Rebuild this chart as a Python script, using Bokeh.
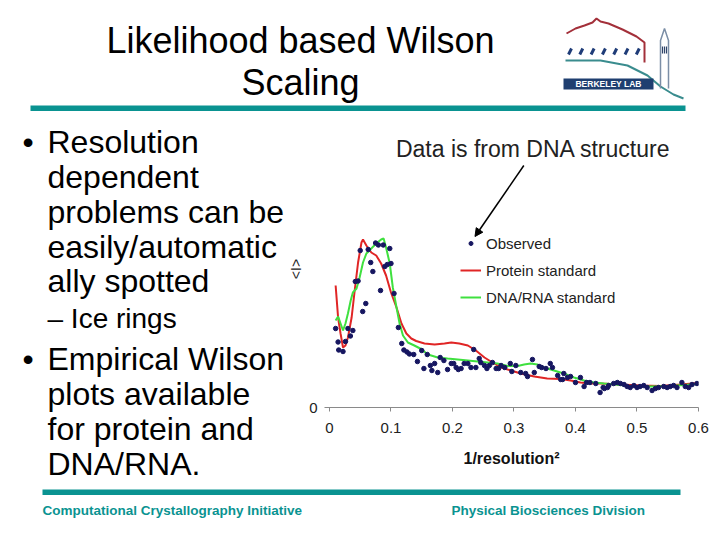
from bokeh.plotting import figure
from bokeh.layouts import column, row
from bokeh.models import (Range1d, Label, LinearAxis, FixedTicker, Legend,
                          LegendItem, Arrow, NormalHead)
from bokeh.embed import file_html
from bokeh.resources import INLINE

FONT = "Liberation Sans"
TEAL = "#0a9391"
NAVY = "#161660"
RED = "#e02525"
GREEN = "#3fe03f"

# ---------------- data ----------------
x_ticks = [0, 0.1, 0.2, 0.3, 0.4, 0.5, 0.6]

obs_x = [0.010, 0.014, 0.015, 0.022, 0.026, 0.030, 0.034, 0.038, 0.042, 0.0465,
         0.050, 0.054, 0.059, 0.063, 0.067, 0.0705, 0.075, 0.0795, 0.083, 0.0875,
         0.090, 0.094, 0.098, 0.100, 0.105, 0.112, 0.1175, 0.121, 0.126, 0.130,
         0.137, 0.143, 0.150, 0.1535, 0.159, 0.164, 0.1665, 0.171, 0.176, 0.180,
         0.186, 0.192, 0.198, 0.202, 0.206, 0.2095, 0.214, 0.219, 0.225, 0.230,
         0.2345, 0.238, 0.2435, 0.246, 0.252, 0.256, 0.260, 0.265, 0.271, 0.275,
         0.279, 0.285, 0.294, 0.2965, 0.303, 0.311, 0.319, 0.322, 0.330, 0.333,
         0.341, 0.345, 0.352, 0.359, 0.3625, 0.371, 0.376, 0.379, 0.381, 0.387,
         0.392, 0.400, 0.408, 0.414, 0.418, 0.4235, 0.433, 0.440, 0.445, 0.447,
         0.452, 0.454, 0.462, 0.468, 0.473, 0.479, 0.484, 0.489, 0.495, 0.500,
         0.505, 0.511, 0.5165, 0.5245, 0.530, 0.535, 0.5435, 0.549, 0.554, 0.5595,
         0.565, 0.573, 0.5785, 0.584, 0.5895, 0.5975]
obs_y = [0.79, 0.655, 0.575, 0.56, 0.66, 0.79, 0.715, 0.77, 1.26, 1.265,
         1.57, 0.96, 1.04, 1.58, 1.45, 1.36, 1.645, 1.625, 1.17, 1.625,
         1.41, 1.43, 1.59, 1.44, 1.14, 0.80, 0.64, 0.575, 0.555, 0.535,
         0.53, 0.46, 0.57, 0.39, 0.53, 0.42, 0.37, 0.44, 0.35, 0.50,
         0.47, 0.38, 0.44, 0.44, 0.40, 0.38, 0.39, 0.44, 0.44, 0.40,
         0.58, 0.40, 0.49, 0.45, 0.42, 0.39, 0.42, 0.45, 0.39, 0.39,
         0.42, 0.40, 0.44, 0.36, 0.42, 0.35, 0.34, 0.31, 0.48, 0.35,
         0.41, 0.40, 0.39, 0.44, 0.40, 0.32, 0.28, 0.28, 0.34, 0.30,
         0.31, 0.25, 0.30, 0.21, 0.25, 0.25, 0.24, 0.15, 0.20, 0.19,
         0.20, 0.22, 0.24, 0.25, 0.24, 0.23, 0.21, 0.20, 0.22, 0.20,
         0.21, 0.22, 0.20, 0.17, 0.19, 0.20, 0.21, 0.20, 0.21, 0.22,
         0.20, 0.25, 0.21, 0.20, 0.23, 0.24]

protein_x = [0.010, 0.014, 0.018, 0.022, 0.026, 0.030, 0.036, 0.041, 0.0465, 0.052,
             0.0545, 0.060, 0.068, 0.076, 0.084, 0.092, 0.100, 0.109, 0.117, 0.125,
             0.133, 0.141, 0.1545, 0.171, 0.187, 0.198, 0.211, 0.225, 0.238, 0.252,
             0.265, 0.279, 0.295, 0.311, 0.333, 0.354, 0.376, 0.392, 0.408, 0.425,
             0.441, 0.457, 0.473, 0.506, 0.538, 0.571, 0.600]
protein_y = [1.22, 0.90, 0.74, 0.60, 0.62, 0.70, 0.90, 1.17, 1.45, 1.65,
             1.68, 1.62, 1.55, 1.52, 1.44, 1.32, 1.15, 1.00, 0.84, 0.74,
             0.69, 0.665, 0.64, 0.63, 0.64, 0.65, 0.64, 0.62, 0.57, 0.50,
             0.45, 0.40, 0.37, 0.34, 0.31, 0.29, 0.285, 0.27, 0.25, 0.24,
             0.24, 0.235, 0.23, 0.22, 0.215, 0.23, 0.245]

dna_x = [0.010, 0.014, 0.018, 0.022, 0.026, 0.030, 0.0345, 0.038, 0.044, 0.049,
         0.0545, 0.060, 0.068, 0.076, 0.084, 0.088, 0.092, 0.098, 0.103, 0.109,
         0.114, 0.1195, 0.1275, 0.138, 0.149, 0.160, 0.176, 0.192, 0.2085, 0.225,
         0.241, 0.257, 0.273, 0.290, 0.306, 0.3165, 0.327, 0.338, 0.349, 0.365,
         0.381, 0.3975, 0.414, 0.430, 0.446, 0.465, 0.489, 0.522, 0.554, 0.587,
         0.600]
dna_y = [0.87, 0.91, 0.84, 0.77, 0.84, 0.94, 1.07, 1.15, 1.19, 1.30,
         1.45, 1.54, 1.59, 1.64, 1.68, 1.69, 1.60, 1.44, 1.20, 1.00,
         0.84, 0.72, 0.65, 0.62, 0.585, 0.53, 0.50, 0.49, 0.48, 0.47,
         0.46, 0.45, 0.44, 0.415, 0.415, 0.43, 0.44, 0.43, 0.40, 0.37,
         0.34, 0.30, 0.27, 0.25, 0.24, 0.23, 0.215, 0.21, 0.215, 0.23,
         0.235]


def deco_fig(w, h, x0, x1, y_top, y_bottom, **kw):
    opts = dict(min_border=0)
    opts.update(kw)
    p = figure(width=w, height=h, x_range=Range1d(x0, x1),
               y_range=Range1d(y_bottom, y_top), output_backend="svg",
               toolbar_location=None, x_axis_location=None, y_axis_location=None,
               outline_line_color=None, **opts)
    p.grid.visible = False
    return p


def lab(p, x, y, text, size, color="black", align="left", style="normal"):
    p.add_layout(Label(x=x, y=y, text=text, text_align=align, text_baseline="middle",
                       text_font=FONT, text_font_size=size, text_color=color,
                       text_font_style=style))


# ---------------- header (page y 0..115) ----------------
header = deco_fig(720, 115, 0, 720, 0, 115)
lab(header, 300, 40, "Likelihood based Wilson", "36px", align="center")
lab(header, 300, 82, "Scaling", "36px", align="center")
header.quad(left=30, right=685, top=105, bottom=110.5, fill_color=TEAL, line_color=None)

# logo (decoration)
header.line([566, 575, 584, 592, 596, 600, 608, 622, 636, 644, 644],
            [33, 28, 25, 22, 18, 21, 23, 29, 36, 42, 62], color="#a3303a", line_width=2)
header.segment(x0=[568 + i * 11.3 for i in range(7)], y0=[54] * 7,
               x1=[571 + i * 11.3 for i in range(7)], y1=[48] * 7,
               color="#1f3c78", line_width=3)
header.line([565, 600, 627, 647, 660, 673, 683], [60, 60, 65, 75, 86, 94, 98],
            color="#3a8c8e", line_width=2)
header.line([660, 660, 664, 668, 668], [88, 40, 28, 40, 88], color="#7b8ea6", line_width=1.5)
header.segment(x0=[662, 664, 666], y0=[46] * 3, x1=[662, 664, 666], y1=[53] * 3,
               color="#30456a", line_width=1.2)
header.quad(left=563, right=653, top=78, bottom=89, fill_color="#1f3f70", line_color=None)
lab(header, 608, 83.5, "BERKELEY LAB", "8.5px", color="white", align="center", style="bold")

# ---------------- left text (page x 0..285, y 115..485), two stacked panels ----------------
left_top = deco_fig(285, 297, 0, 285, 115, 412)
left_bot = deco_fig(285, 73, 0, 285, 412, 485)
for txt, yy in [("Resolution", 141), ("dependent", 176), ("problems can be", 211),
                ("easily/automatic", 246), ("ally spotted", 280)]:
    lab(left_top, 47, yy, txt, "32px")
lab(left_top, 22, 141, "•", "32px")
lab(left_top, 47, 318, "– Ice rings", "28px")
for txt, yy in [("Empirical Wilson", 358), ("plots available", 393)]:
    lab(left_top, 47, yy, txt, "32px")
lab(left_top, 22, 358, "•", "32px")
for txt, yy in [("for protein and", 428), ("DNA/RNA.", 463)]:
    lab(left_bot, 47, yy, txt, "32px")

# ---------------- chart (page x 285..720) ----------------
chart = figure(width=435, height=370, x_range=Range1d(-0.0081, 0.6),
               y_range=Range1d(0, 2.77), output_backend="svg", toolbar_location=None,
               x_axis_location=None, y_axis_location=None,
               min_border_left=38, min_border_right=22, min_border_top=15,
               min_border_bottom=78, outline_line_color=None)
chart.grid.visible = False

xaxis = LinearAxis(ticker=FixedTicker(ticks=x_ticks), axis_label="1/resolution²",
                   axis_line_color="#8a8a8a", axis_line_width=1.2,
                   major_tick_line_color="#8a8a8a", major_tick_out=4, major_tick_in=0,
                   minor_tick_line_color=None, major_label_standoff=11,
                   major_label_text_font=FONT, major_label_text_font_size="15px",
                   major_label_text_color="#222222",
                   axis_label_text_font=FONT, axis_label_text_font_size="16px",
                   axis_label_text_font_style="bold", axis_label_text_color="#111111",
                   axis_label_standoff=14)
chart.add_layout(xaxis, "below")
yaxis = LinearAxis(ticker=FixedTicker(ticks=[0]), axis_label="<I>",
                   axis_line_color=None, major_tick_line_color=None,
                   major_tick_out=0, major_tick_in=0, minor_tick_line_color=None,
                   major_label_standoff=7, major_label_text_font=FONT,
                   major_label_text_font_size="15px", major_label_text_color="#222222",
                   axis_label_text_font=FONT, axis_label_text_font_size="14px",
                   axis_label_text_font_style="normal", axis_label_text_color="#222222",
                   axis_label_standoff=2)
chart.add_layout(yaxis, "left")

r_prot = chart.line(protein_x, protein_y, color=RED, line_width=2)
r_dna = chart.line(dna_x, dna_y, color=GREEN, line_width=2)
r_obs = chart.scatter(obs_x, obs_y, size=4.5, color=NAVY)

legend = Legend(items=[LegendItem(label="Observed", renderers=[r_obs]),
                       LegendItem(label="Protein standard", renderers=[r_prot]),
                       LegendItem(label="DNA/RNA standard", renderers=[r_dna])],
                location=(136, 100), glyph_width=21, glyph_height=10, label_height=20,
                spacing=7, padding=0, margin=0, border_line_color=None,
                background_fill_alpha=0, label_text_font=FONT,
                label_text_font_size="15px", label_text_color="#222222",
                label_standoff=5)
chart.add_layout(legend)

chart.add_layout(Label(x=0.108, y=2.59, text="Data is from DNA structure",
                       text_baseline="middle", text_font=FONT, text_font_size="23px",
                       text_color="#222222"))
chart.add_layout(Arrow(end=NormalHead(size=8, fill_color="black", line_color="black"),
                       x_start=0.316, y_start=2.42, x_end=0.2366, y_end=1.71,
                       line_width=1.5, line_color="black"))

# ---------------- footer (page y 485..540) ----------------
footer = deco_fig(720, 55, 0, 720, 485, 540)
footer.quad(left=42, right=680, top=489, bottom=494.5, fill_color=TEAL, line_color=None)
lab(footer, 42, 510, "Computational Crystallography Initiative", "13.5px", color=TEAL, style="bold")
lab(footer, 451, 510, "Physical Biosciences Division", "13.5px", color=TEAL, style="bold")

layout = column(header, row(column(left_top, left_bot, spacing=0), chart, spacing=0),
                footer, spacing=0)
open("out.html", "w").write(file_html(layout, INLINE))
